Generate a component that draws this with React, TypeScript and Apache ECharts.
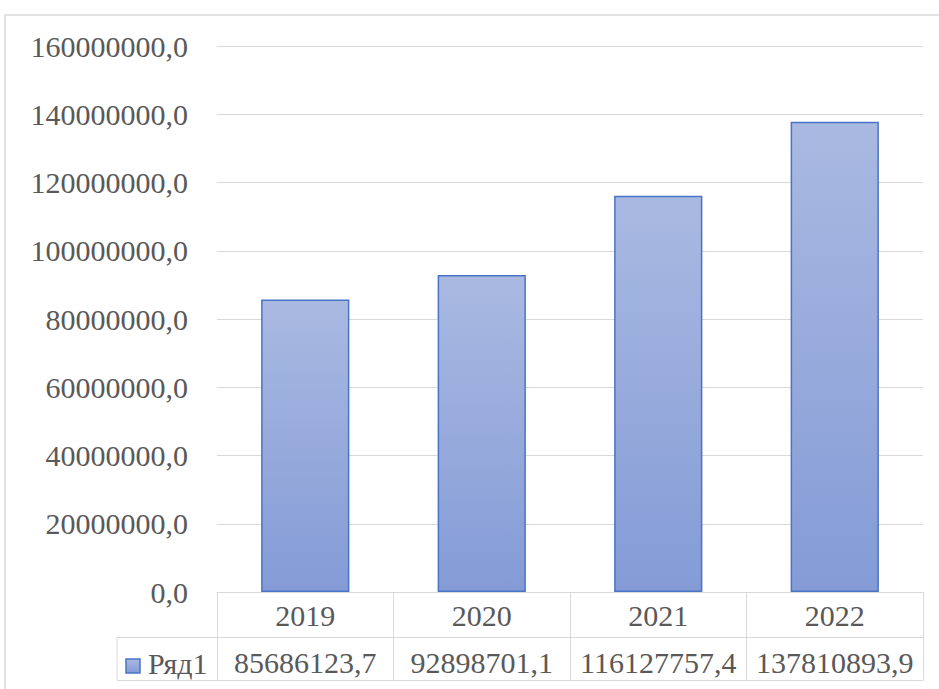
import React, { useEffect, useRef } from "react";
import * as echarts from "echarts";

const years = ["2019", "2020", "2021", "2022"];
const values = [85686123.7, 92898701.1, 116127757.4, 137810893.9];
const seriesName = "Ряд1";
const yMin = 0;
const yMax = 160000000;
const yStep = 20000000;

const fmt = (v: number, d: number) => v.toFixed(d).replace(".", ",");

const W = 939;
const H = 689;
const gridLeft = 217;
const gridRight = 16;
const gridTop = 46;
const gridBottom = 97;
const axisY = H - gridBottom;
const row1 = 637.5;
const row2 = 680.5;
const FONT = "serif";
const TXT = "#595959";
const LINE = "#d9d9d9";

const barFill = new echarts.graphic.LinearGradient(0, 0, 0, 1, [
  { offset: 0, color: "#a9b9e1" },
  { offset: 1, color: "#849bd6" },
]);

export default function App() {
  const ref = useRef<HTMLDivElement>(null);
  useEffect(() => {
    if (!ref.current) return;
    const chart = echarts.init(ref.current, null, { renderer: "svg" });
    const right = W - gridRight;
    chart.setOption({
      animation: false,
      backgroundColor: "#ffffff",
      textStyle: { fontFamily: FONT },
      grid: { left: gridLeft, right: gridRight, top: gridTop, bottom: gridBottom, containLabel: false },
      xAxis: [
        {
          type: "category",
          data: years,
          position: "bottom",
          axisLine: { show: true, lineStyle: { color: LINE, width: 1 } },
          axisTick: { show: true, alignWithLabel: false, length: row2 - axisY, lineStyle: { color: LINE, width: 1 } },
          axisLabel: { interval: 0, margin: 8, fontFamily: FONT, fontSize: 30, color: TXT },
          splitLine: { show: false },
        },
        {
          type: "category",
          data: values.map((v) => fmt(v, 1)),
          position: "bottom",
          axisLine: { show: false },
          axisTick: { show: false },
          axisLabel: { interval: 0, hideOverlap: false, margin: 55, fontFamily: FONT, fontSize: 30, color: TXT },
          splitLine: { show: false },
        },
      ],
      yAxis: {
        type: "value",
        min: yMin,
        max: yMax,
        interval: yStep,
        axisLine: { show: false },
        axisTick: { show: false },
        axisLabel: { margin: 29, fontFamily: FONT, fontSize: 30, color: TXT, formatter: (v: number) => fmt(v, 1) },
        splitLine: { show: true, lineStyle: { color: LINE, width: 1 } },
      },
      series: [
        {
          type: "bar",
          name: seriesName,
          data: values,
          xAxisIndex: 0,
          barWidth: "50%",
          itemStyle: { color: barFill, borderColor: "#4a74c6", borderWidth: 1.5 },
        },
      ],
      graphic: [
        {
          type: "rect",
          shape: { x: 5, y: 15, width: 1200, height: 1200 },
          style: { fill: "none", stroke: LINE, lineWidth: 1.5 },
          silent: true,
        },
        {
          type: "line",
          shape: { x1: 117, y1: row1, x2: right, y2: row1 },
          style: { stroke: LINE, lineWidth: 1 },
        },
        {
          type: "line",
          shape: { x1: 117, y1: row2, x2: right, y2: row2 },
          style: { stroke: LINE, lineWidth: 1 },
        },
        {
          type: "line",
          shape: { x1: 117, y1: row1, x2: 117, y2: row2 },
          style: { stroke: LINE, lineWidth: 1 },
        },
        {
          type: "rect",
          shape: { x: 126, y: 659, width: 14, height: 14 },
          style: {
            fill: new echarts.graphic.LinearGradient(0, 0, 0, 1, [
              { offset: 0, color: "#a9b9e1" },
              { offset: 1, color: "#849bd6" },
            ]),
            stroke: "#4a74c6",
            lineWidth: 1.5,
          },
        },
        {
          type: "text",
          x: 148,
          y: (row1 + row2) / 2 + 4,
          style: { text: seriesName, fontFamily: FONT, fontSize: 30, fill: TXT, verticalAlign: "middle", align: "left" },
        },
      ],
    });
    return () => chart.dispose();
  }, []);
  return <div ref={ref} style={{ position: "fixed", left: 0, top: 0, width: W, height: H }} />;
}
